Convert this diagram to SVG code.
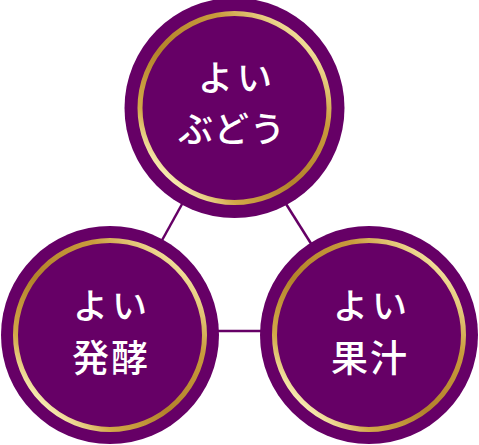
<svg xmlns="http://www.w3.org/2000/svg" width="479" height="445" viewBox="0 0 479 445">
  <defs>
    <linearGradient id="gold" x1="1" y1="0" x2="0" y2="1">
      <stop offset="0" stop-color="#c8993a"/>
      <stop offset="0.12" stop-color="#f6e4a2"/>
      <stop offset="0.3" stop-color="#c99b3c"/>
      <stop offset="0.55" stop-color="#b3832b"/>
      <stop offset="0.75" stop-color="#d2a848"/>
      <stop offset="0.86" stop-color="#f8eab0"/>
      <stop offset="1" stop-color="#c3933a"/>
    </linearGradient>
    <style>
      .disc { fill: #660066; }
      .ring { fill: none; stroke: url(#gold); stroke-width: 5; }
      .conn { stroke: #660066; stroke-width: 2.5; fill: none; }
      .label { fill: #ffffff; font-family: "Noto Sans CJK JP", "Noto Sans CJK SC", sans-serif; font-size: 35px; font-weight: 500; text-anchor: middle; }
      .big { font-size: 37px; }
    </style>
  </defs>
  <g id="connectors">
    <line class="conn" x1="212" y1="150" x2="140" y2="280"/>
    <line class="conn" x1="252" y1="150" x2="334" y2="280"/>
    <line class="conn" x1="200" y1="331" x2="280" y2="331"/>
  </g>
  <g id="node-budou">
    <circle class="disc" cx="234.5" cy="108" r="110"/>
    <circle class="ring" cx="234.5" cy="108" r="94.5"/>
    <text class="label" x="237" y="91" letter-spacing="4">よい</text>
    <text class="label" x="232" y="142" letter-spacing="1">ぶどう</text>
  </g>
  <g id="node-hakkou">
    <circle class="disc" cx="110" cy="335" r="109"/>
    <circle class="ring" cx="110" cy="335" r="94.5"/>
    <text class="label" x="112" y="319" letter-spacing="4">よい</text>
    <text class="label big" x="111" y="372" letter-spacing="2">発酵</text>
  </g>
  <g id="node-kajuu">
    <circle class="disc" cx="369" cy="335" r="109"/>
    <circle class="ring" cx="369" cy="335" r="94.5"/>
    <text class="label" x="372" y="319" letter-spacing="4">よい</text>
    <text class="label big" x="370" y="372" letter-spacing="2">果汁</text>
  </g>
</svg>
